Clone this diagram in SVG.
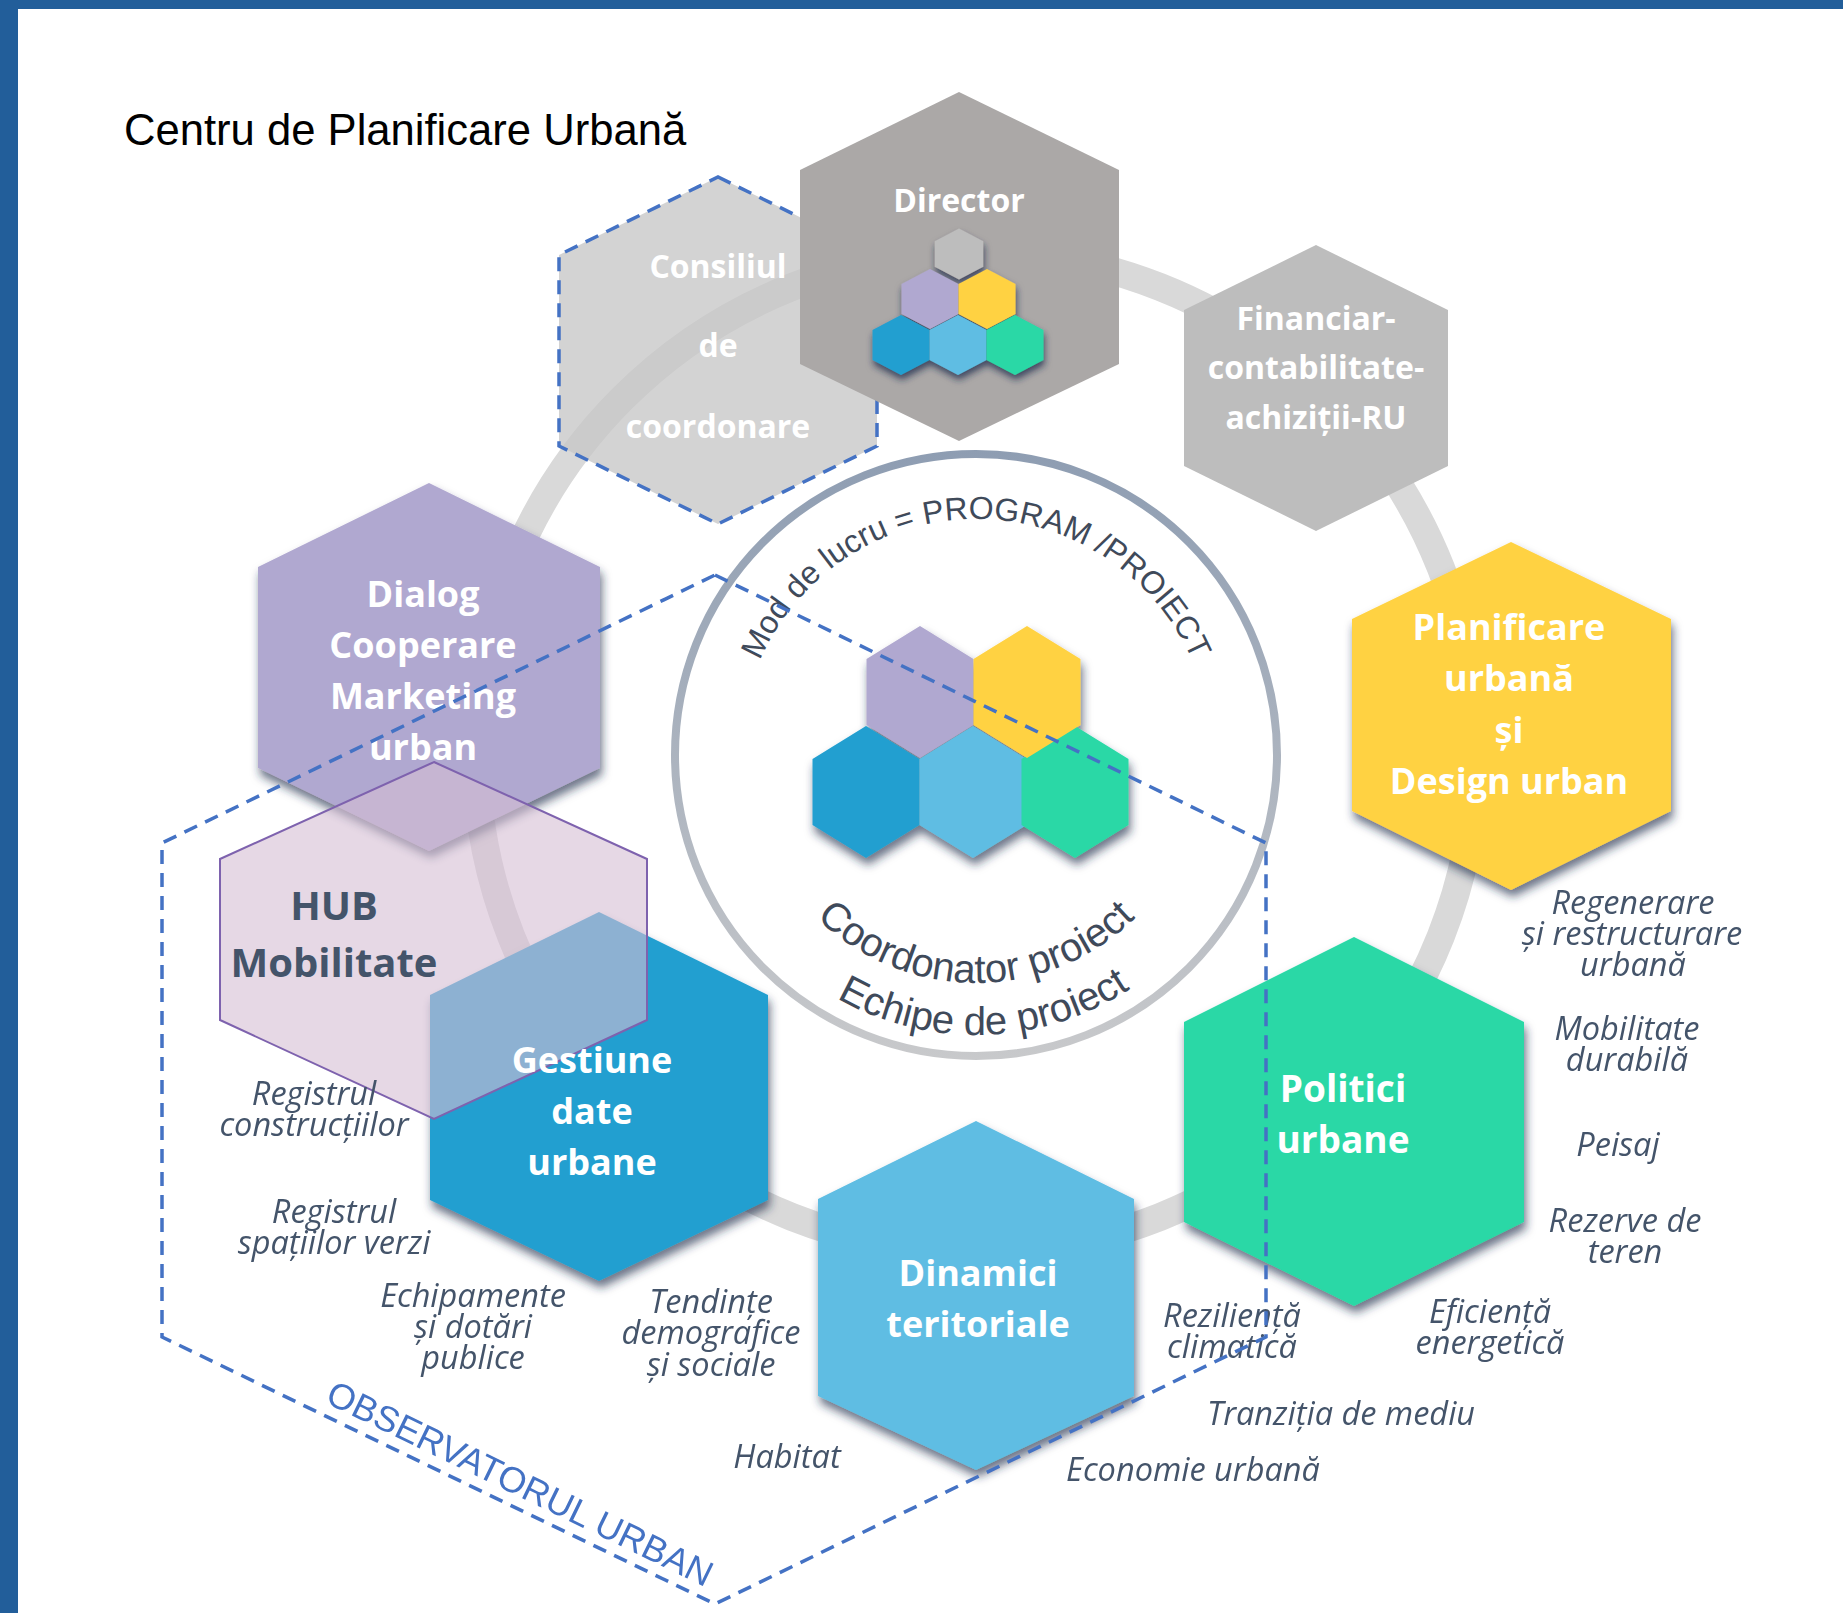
<svg xmlns="http://www.w3.org/2000/svg" width="1843" height="1613" viewBox="0 0 1843 1613">
<defs>
<style>
.lbl{font-family:"Open Sans","Liberation Sans",sans-serif;font-weight:700;fill:#ffffff;text-anchor:middle}
.it{font-family:"Open Sans","Liberation Sans",sans-serif;font-style:italic;fill:#44546A;text-anchor:middle;font-size:32.5px}
.dash{fill:none;stroke:#4472C4;stroke-width:3.5;stroke-dasharray:14 9}
.arc{font-family:"Liberation Sans","Open Sans",sans-serif;fill:#3F4A5A}
</style>
<filter id="sh" x="-20%" y="-20%" width="140%" height="150%">
<feDropShadow dx="2" dy="7" stdDeviation="5" flood-color="#1c2a48" flood-opacity="0.65"/>
</filter>
<filter id="shs" x="-30%" y="-30%" width="160%" height="170%">
<feDropShadow dx="1" dy="5" stdDeviation="3.5" flood-color="#1c2a48" flood-opacity="0.75"/>
</filter>
<linearGradient id="cg" x1="0" y1="450" x2="0" y2="1060" gradientUnits="userSpaceOnUse">
<stop offset="0" stop-color="#8E9DB2"/>
<stop offset="1" stop-color="#C8C9CB"/>
</linearGradient>
<path id="hexC" d="M0,-66 L53.5,-33 L53.5,33 L0,66 L-53.5,33 L-53.5,-33 Z"/>
<path id="hexM" d="M0,-30 L28.5,-15 L28.5,15 L0,30 L-28.5,15 L-28.5,-15 Z"/>
<path id="arcTop" d="M740,755 A236,236 0 0 1 1212,755"/>
<path id="arcCoord" d="M748,755 A228,228 0 0 0 1204,755"/>
<path id="arcEch" d="M696,755 A280,280 0 0 0 1256,755"/>
</defs>

<rect x="0" y="0" width="1843" height="1613" fill="#ffffff"/>
<rect x="0" y="0" width="1843" height="9" fill="#225E9A"/>
<rect x="0" y="0" width="18" height="1613" fill="#225E9A"/>

<text x="124" y="145" font-family="Liberation Sans, Arial, sans-serif" font-size="43.6" fill="#000000">Centru de Planificare Urbană</text>

<g id="connectors">
<circle cx="976" cy="752" r="500" fill="none" stroke="#D9D9D9" stroke-width="28"/>
</g>

<g id="consiliul">
<polygon points="718,177 877,255 877,446 718,524 559,446 559,255" fill="#C6C6C6" fill-opacity="0.78"/>
<polygon class="dash" points="718,177 877,255 877,446 718,524 559,446 559,255" stroke-width="3"/>
<text class="lbl" font-size="32" x="718" y="278">Consiliul</text>
<text class="lbl" font-size="32" x="718" y="357">de</text>
<text class="lbl" font-size="32" x="718" y="438">coordonare</text>
</g>

<g id="director">
<polygon points="959,92 1119,170 1119,364 959,441 800,364 800,170" fill="#ABA8A7"/>
<text class="lbl" font-size="32" x="959" y="212">Director</text>
<g filter="url(#shs)">
<use href="#hexM" transform="translate(959,254) scale(0.85)" fill="#BDBDBD"/>
</g>
<g filter="url(#shs)">
<use href="#hexM" x="930" y="299" fill="#B0A8D0"/>
<use href="#hexM" x="987" y="299" fill="#FFD243"/>
<use href="#hexM" x="901" y="345" fill="#239FD0"/>
<use href="#hexM" x="958" y="345" fill="#5EBDE3"/>
<use href="#hexM" x="1015" y="345" fill="#29D8A6"/>
</g>
</g>

<g id="financiar">
<polygon points="1316,245 1448,310 1448,466 1316,531 1184,466 1184,310" fill="#BDBDBD"/>
<text class="lbl" font-size="32" x="1316" y="330">Financiar-</text>
<text class="lbl" font-size="32" x="1316" y="379">contabilitate-</text>
<text class="lbl" font-size="32" x="1316" y="429">achiziții-RU</text>
</g>

<g id="planificare">
<polygon points="1511,542 1671,619 1671,811 1511,890 1352,811 1352,619" fill="#FFD243" filter="url(#sh)"/>
<text class="lbl" font-size="36" x="1509" y="640">Planificare</text>
<text class="lbl" font-size="36" x="1509" y="691">urbană</text>
<text class="lbl" font-size="36" x="1509" y="743">și</text>
<text class="lbl" font-size="36" x="1509" y="794">Design urban</text>
</g>

<g id="politici">
<polygon points="1354,937 1524,1022 1524,1222 1354,1306 1184,1222 1184,1022" fill="#29D8A6" filter="url(#sh)"/>
<text class="lbl" font-size="37" x="1343" y="1102">Politici</text>
<text class="lbl" font-size="37" x="1343" y="1153">urbane</text>
</g>

<g id="dinamici">
<polygon points="976,1121 1134,1199 1134,1396 976,1470 818,1396 818,1199" fill="#5EBDE3" filter="url(#sh)"/>
<text class="lbl" font-size="36" x="978" y="1286">Dinamici</text>
<text class="lbl" font-size="36" x="978" y="1337">teritoriale</text>
</g>

<g id="gestiune">
<polygon points="599,912 768,995 768,1200 599,1281 430,1200 430,995" fill="#239FD0" filter="url(#sh)"/>
</g>

<g id="dialog">
<polygon points="429,483 600,567 600,768 429,851 258,768 258,567" fill="#B0A8D0" filter="url(#sh)"/>
<text class="lbl" font-size="36" x="423" y="607">Dialog</text>
<text class="lbl" font-size="36" x="423" y="658">Cooperare</text>
<text class="lbl" font-size="36" x="423" y="709">Marketing</text>
<text class="lbl" font-size="36" x="423" y="760">urban</text>
</g>

<g id="hub">
<polygon points="434,762 647,859 647,1020 434,1119 220,1020 220,859" fill="#D5BED4" fill-opacity="0.6" stroke="#7E62AE" stroke-width="2"/>
<text class="lbl" font-size="40" x="334" y="920" style="fill:#44546A">HUB</text>
<text class="lbl" font-size="40" x="334" y="977" style="fill:#44546A">Mobilitate</text>
</g>

<g id="gestiune-label">
<text class="lbl" font-size="36" x="592" y="1073">Gestiune</text>
<text class="lbl" font-size="36" x="592" y="1124">date</text>
<text class="lbl" font-size="36" x="592" y="1175">urbane</text>
</g>

<g id="coordonator">
<circle cx="976" cy="755" r="301" fill="#ffffff" stroke="url(#cg)" stroke-width="8"/>
<text class="arc" font-size="32"><textPath href="#arcTop" startOffset="50%" text-anchor="middle">Mod de lucru = PROGRAM /PROIECT</textPath></text>
<text class="arc" font-size="40"><textPath href="#arcCoord" startOffset="50%" text-anchor="middle">Coordonator proiect</textPath></text>
<text class="arc" font-size="40"><textPath href="#arcEch" startOffset="51%" text-anchor="middle">Echipe de proiect</textPath></text>
<g filter="url(#sh)">
<use href="#hexC" x="866" y="792" fill="#239FD0"/>
<use href="#hexC" x="973" y="792" fill="#5EBDE3"/>
<use href="#hexC" x="1075" y="792" fill="#29D8A6"/>
<use href="#hexC" x="920" y="692" fill="#B0A8D0"/>
<use href="#hexC" x="1027" y="692" fill="#FFD243"/>
</g>
</g>

<g id="labels">
<text class="it" x="1633" y="914">Regenerare</text>
<text class="it" x="1632" y="945">și restructurare</text>
<text class="it" x="1633" y="976">urbană</text>
<text class="it" x="1627" y="1040">Mobilitate</text>
<text class="it" x="1627" y="1071">durabilă</text>
<text class="it" x="1618" y="1156">Peisaj</text>
<text class="it" x="1625" y="1232">Rezerve de</text>
<text class="it" x="1625" y="1263">teren</text>
<text class="it" x="1490" y="1323">Eficiență</text>
<text class="it" x="1490" y="1354">energetică</text>
<text class="it" x="1232" y="1327">Reziliență</text>
<text class="it" x="1232" y="1358">climatică</text>
<text class="it" x="1341" y="1425">Tranziția de mediu</text>
<text class="it" x="1193" y="1481">Economie urbană</text>
<text class="it" x="787" y="1468">Habitat</text>
<text class="it" x="711" y="1313">Tendințe</text>
<text class="it" x="711" y="1344">demografice</text>
<text class="it" x="711" y="1376">și sociale</text>
<text class="it" x="473" y="1307">Echipamente</text>
<text class="it" x="473" y="1338">și dotări</text>
<text class="it" x="473" y="1369">publice</text>
<text class="it" x="334" y="1223">Registrul</text>
<text class="it" x="334" y="1254">spațiilor verzi</text>
<text class="it" x="314" y="1105">Registrul</text>
<text class="it" x="314" y="1136">construcțiilor</text>
</g>

<g id="observatorul">
<path class="dash" d="M715,575 L1266,843 L1266,1337 L715,1604 L162,1337 L162,843 Z"/>
<text x="324" y="1402" transform="rotate(25.9 324 1402)" font-family="Liberation Sans, Arial, sans-serif" font-size="36" fill="#4472C4">OBSERVATORUL URBAN</text>
</g>
</svg>
